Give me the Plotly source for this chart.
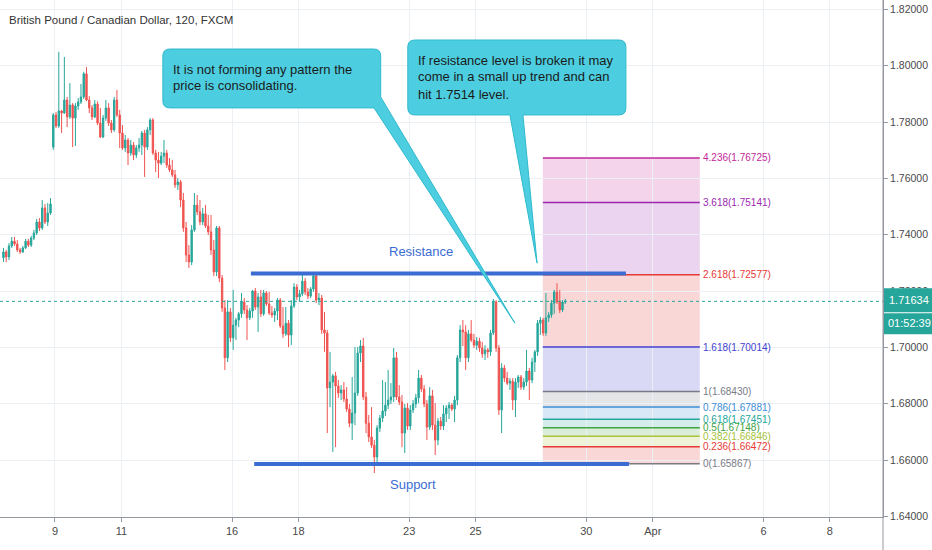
import plotly.graph_objects as go

# ---------------- data ----------------
opens = [
    1.7318, 1.7339, 1.7321, 1.7360, 1.7377, 1.7367, 1.7346, 1.7339, 1.7353, 1.7377, 1.7363, 1.7388, 1.7406, 1.7445, 1.7424, 1.7495, 1.7445, 1.7477,
    1.7711, 1.7825, 1.7786, 1.7839, 1.7832, 1.7878, 1.7818, 1.7860, 1.7814, 1.7857,
    1.7871, 1.7889, 1.7971, 1.7878, 1.7850, 1.7818, 1.7864, 1.7796, 1.7747, 1.7814,
    1.7850, 1.7796, 1.7772, 1.7878, 1.7825, 1.7761, 1.7708, 1.7736, 1.7690, 1.7718,
    1.7683, 1.7708, 1.7718, 1.7761, 1.7711, 1.7772, 1.7807, 1.7690, 1.7665, 1.7654,
    1.7679, 1.7690, 1.7647, 1.7630, 1.7612, 1.7577, 1.7587, 1.7523, 1.7424, 1.7328,
    1.7303, 1.7417, 1.7505, 1.7481, 1.7445, 1.7474, 1.7431, 1.7410, 1.7346, 1.7268, 1.7424,
    1.7246, 1.7140, 1.6963, 1.7126, 1.7034, 1.7079, 1.7097, 1.7119, 1.7161, 1.7133,
    1.7105, 1.7129, 1.7200, 1.7143, 1.7179, 1.7119, 1.7193, 1.7154, 1.7122, 1.7115,
    1.7129, 1.7168, 1.7076, 1.7048, 1.7086, 1.7044, 1.7147, 1.7214, 1.7179, 1.7190,
    1.7235, 1.7197, 1.7182, 1.7207, 1.7254, 1.7168, 1.7175, 1.7062, 1.7051, 1.6856, 1.6877, 1.6899, 1.6863,
    1.6838, 1.6849, 1.6817, 1.6781, 1.6731, 1.6767, 1.6838, 1.6980, 1.7005, 1.6824,
    1.6731, 1.6682, 1.6653, 1.6611, 1.6714, 1.6749, 1.6774, 1.6795, 1.6813, 1.6824,
    1.6963, 1.6824, 1.6806, 1.6696, 1.6785, 1.6721, 1.6778, 1.6799, 1.6821, 1.6891,
    1.6852, 1.6799, 1.6717, 1.6828, 1.6724, 1.6671, 1.6738, 1.6721, 1.6764, 1.6785, 1.6795,
    1.6781, 1.6813, 1.6963, 1.7062, 1.7055, 1.6963, 1.7048, 1.7026, 1.7008, 1.7022,
    1.6998, 1.6977, 1.6991, 1.6984, 1.7051, 1.7161, 1.6998, 1.6778, 1.6927, 1.6891,
    1.6873, 1.6880, 1.6813, 1.6877, 1.6895, 1.6859, 1.6877, 1.6916, 1.6884, 1.6948,
    1.6984, 1.7086, 1.7097, 1.7051, 1.7105, 1.7115, 1.7157, 1.7197, 1.7161, 1.7133, 1.7161,
]
highs = [
    1.7353, 1.7346, 1.7370, 1.7392, 1.7392, 1.7381, 1.7353, 1.7360, 1.7385, 1.7385, 1.7396, 1.7417, 1.7456, 1.7459, 1.7523, 1.7509, 1.7512, 1.7530,
    1.7832, 1.7836, 1.8049, 1.7843, 1.8031, 1.7889, 1.7938, 1.7867, 1.7867, 1.7885,
    1.7935, 1.7978, 1.7995, 1.7892, 1.7860, 1.7878, 1.7874, 1.7850, 1.7825, 1.7878,
    1.7867, 1.7807, 1.7889, 1.7914, 1.7843, 1.7789, 1.7754, 1.7743, 1.7736, 1.7729,
    1.7718, 1.7743, 1.7768, 1.7772, 1.7782, 1.7814, 1.7814, 1.7701, 1.7694, 1.7694,
    1.7736, 1.7701, 1.7672, 1.7665, 1.7630, 1.7601, 1.7594, 1.7548, 1.7445, 1.7363,
    1.7434, 1.7548, 1.7541, 1.7523, 1.7495, 1.7505, 1.7470, 1.7470, 1.7381, 1.7431, 1.7431,
    1.7257, 1.7168, 1.7168, 1.7140, 1.7204, 1.7105, 1.7126, 1.7193, 1.7175, 1.7150,
    1.7140, 1.7204, 1.7211, 1.7193, 1.7204, 1.7204, 1.7200, 1.7197, 1.7147, 1.7140,
    1.7175, 1.7175, 1.7143, 1.7143, 1.7097, 1.7168, 1.7228, 1.7225, 1.7204, 1.7257,
    1.7246, 1.7211, 1.7214, 1.7268, 1.7268, 1.7193, 1.7186, 1.7126, 1.7062, 1.6984, 1.6906, 1.6913, 1.6884,
    1.6866, 1.6877, 1.6859, 1.6799, 1.6895, 1.7001, 1.7001, 1.7026, 1.7034, 1.6842,
    1.6760, 1.6788, 1.6671, 1.6724, 1.6760, 1.6884, 1.6877, 1.6920, 1.6873, 1.6998,
    1.6984, 1.6866, 1.6831, 1.6799, 1.6802, 1.6795, 1.6813, 1.6835, 1.6920, 1.6902,
    1.6866, 1.6813, 1.6859, 1.6849, 1.6802, 1.6749, 1.6753, 1.6795, 1.6795, 1.6806, 1.6802,
    1.6828, 1.6973, 1.7079, 1.7097, 1.7079, 1.7062, 1.7097, 1.7048, 1.7037, 1.7034,
    1.7019, 1.7008, 1.6998, 1.7062, 1.7172, 1.7168, 1.7008, 1.6944, 1.6938, 1.6913,
    1.6891, 1.6891, 1.6891, 1.6902, 1.6902, 1.6891, 1.6991, 1.6927, 1.6963, 1.6991,
    1.7097, 1.7108, 1.7105, 1.7193, 1.7126, 1.7168, 1.7204, 1.7228, 1.7204, 1.7168, 1.7172,
]
lows = [
    1.7303, 1.7303, 1.7310, 1.7353, 1.7360, 1.7339, 1.7332, 1.7335, 1.7349, 1.7356, 1.7356, 1.7381, 1.7399, 1.7413, 1.7417, 1.7438, 1.7431, 1.7470,
    1.7701, 1.7779, 1.7779, 1.7761, 1.7829, 1.7782, 1.7811, 1.7711, 1.7715, 1.7843,
    1.7864, 1.7882, 1.7874, 1.7832, 1.7807, 1.7814, 1.7789, 1.7743, 1.7743, 1.7804,
    1.7786, 1.7761, 1.7765, 1.7818, 1.7708, 1.7701, 1.7694, 1.7647, 1.7680, 1.7665,
    1.7672, 1.7694, 1.7683, 1.7605, 1.7701, 1.7754, 1.7683, 1.7622, 1.7601, 1.7647,
    1.7654, 1.7637, 1.7622, 1.7605, 1.7566, 1.7559, 1.7498, 1.7410, 1.7303, 1.7282,
    1.7292, 1.7410, 1.7470, 1.7434, 1.7434, 1.7424, 1.7399, 1.7328, 1.7253, 1.7253, 1.7232,
    1.7126, 1.6920, 1.6948, 1.7019, 1.6991, 1.7026, 1.7072, 1.7105, 1.7119, 1.7026,
    1.7097, 1.7105, 1.7133, 1.7055, 1.7108, 1.7112, 1.7147, 1.7115, 1.7105, 1.7090,
    1.7097, 1.7069, 1.7034, 1.7041, 1.7001, 1.7008, 1.7140, 1.7168, 1.7161, 1.7182,
    1.7186, 1.7172, 1.7175, 1.7197, 1.7157, 1.7150, 1.7048, 1.6984, 1.6696, 1.6788, 1.6629, 1.6646, 1.6821,
    1.6813, 1.6806, 1.6771, 1.6717, 1.6671, 1.6724, 1.6828, 1.6948, 1.6813, 1.6696,
    1.6664, 1.6643, 1.6554, 1.6593, 1.6700, 1.6735, 1.6756, 1.6781, 1.6799, 1.6806,
    1.6813, 1.6795, 1.6646, 1.6625, 1.6707, 1.6707, 1.6767, 1.6785, 1.6802, 1.6842,
    1.6788, 1.6671, 1.6707, 1.6707, 1.6618, 1.6653, 1.6707, 1.6707, 1.6735, 1.6746, 1.6774,
    1.6735, 1.6795, 1.6948, 1.7005, 1.6920, 1.6948, 1.7019, 1.6998, 1.6991, 1.6984,
    1.6963, 1.6955, 1.6963, 1.6970, 1.7044, 1.6984, 1.6760, 1.6696, 1.6877, 1.6866,
    1.6849, 1.6778, 1.6753, 1.6856, 1.6849, 1.6849, 1.6863, 1.6813, 1.6873, 1.6913,
    1.6970, 1.7044, 1.7041, 1.7041, 1.7090, 1.7105, 1.7119, 1.7154, 1.7122, 1.7126, 1.7154,
]
closes = [
    1.7339, 1.7321, 1.7360, 1.7377, 1.7367, 1.7346, 1.7339, 1.7353, 1.7377, 1.7363, 1.7388, 1.7406, 1.7445, 1.7424, 1.7495, 1.7445, 1.7477, 1.7509,
    1.7825, 1.7786, 1.7839, 1.7832, 1.7878, 1.7818, 1.7860, 1.7814, 1.7857, 1.7871,
    1.7889, 1.7971, 1.7878, 1.7850, 1.7818, 1.7864, 1.7796, 1.7747, 1.7814, 1.7850,
    1.7796, 1.7772, 1.7878, 1.7825, 1.7761, 1.7708, 1.7736, 1.7690, 1.7718, 1.7683,
    1.7708, 1.7718, 1.7761, 1.7711, 1.7772, 1.7807, 1.7690, 1.7665, 1.7654, 1.7679,
    1.7690, 1.7647, 1.7630, 1.7612, 1.7577, 1.7587, 1.7523, 1.7424, 1.7328, 1.7303,
    1.7417, 1.7505, 1.7481, 1.7445, 1.7474, 1.7431, 1.7410, 1.7346, 1.7268, 1.7424, 1.7246,
    1.7140, 1.6963, 1.7126, 1.7034, 1.7079, 1.7097, 1.7119, 1.7161, 1.7133, 1.7105,
    1.7129, 1.7200, 1.7143, 1.7179, 1.7119, 1.7193, 1.7154, 1.7122, 1.7115, 1.7129,
    1.7168, 1.7076, 1.7048, 1.7086, 1.7044, 1.7147, 1.7214, 1.7179, 1.7190, 1.7235,
    1.7197, 1.7182, 1.7207, 1.7254, 1.7168, 1.7175, 1.7062, 1.7051, 1.6856, 1.6877, 1.6899, 1.6863, 1.6838,
    1.6849, 1.6817, 1.6781, 1.6731, 1.6767, 1.6838, 1.6980, 1.7005, 1.6824, 1.6731,
    1.6682, 1.6653, 1.6611, 1.6714, 1.6749, 1.6774, 1.6795, 1.6813, 1.6824, 1.6963,
    1.6824, 1.6806, 1.6696, 1.6785, 1.6721, 1.6778, 1.6799, 1.6821, 1.6891, 1.6852,
    1.6799, 1.6717, 1.6828, 1.6724, 1.6671, 1.6738, 1.6721, 1.6764, 1.6785, 1.6795, 1.6781,
    1.6813, 1.6963, 1.7062, 1.7055, 1.6963, 1.7048, 1.7026, 1.7008, 1.7022, 1.6998,
    1.6977, 1.6991, 1.6984, 1.7051, 1.7161, 1.6998, 1.6778, 1.6927, 1.6891, 1.6873,
    1.6880, 1.6813, 1.6877, 1.6895, 1.6859, 1.6877, 1.6916, 1.6884, 1.6948, 1.6984,
    1.7086, 1.7097, 1.7051, 1.7105, 1.7115, 1.7157, 1.7197, 1.7161, 1.7133, 1.7161, 1.71634,
]

# bar-index positions of the date ticks (120-min bars, weekends skipped)
tick_pos = [19.6, 43.6, 83.6, 107.6, 147.6, 171.6, 211.6, 235.6, 275.6, 299.6]
tick_text = ["9", "11", "16", "18", "23", "25", "30", "Apr", "6", "8"]

fib_ratios = ["0", "0.236", "0.382", "0.5", "0.618", "0.786", "1", "1.618", "2.618", "3.618", "4.236"]
fib_prices = [1.65867, 1.66472, 1.66846, 1.67148, 1.67451, 1.67881, 1.68430, 1.70014, 1.72577, 1.75141, 1.76725]
fib_start, fib_end = 195.9, 252.6

resistance_price = 1.7262
resistance_span = [90.4, 225.9]
support_price = 1.6586
support_span = [91.6, 227.0]

last_price = 1.71634
countdown = "01:52:39"
title = "British Pound / Canadian Dollar, 120, FXCM"

note1_lines = ["It is not forming any pattern the", "price is consolidating."]
note2_lines = ["If resistance level is broken it may", "come in a small up trend and can", "hit 1.7514 level."]

# ---------------- styling ----------------
FONT = "Liberation Sans, Arial, sans-serif"
UP, DOWN = "#26a69a", "#ef5350"
GRID = "#eceff4"
AXIS = "#9598a1"
TXT = "#4a4a4a"
fib_colors = ["#787b86", "#e53935", "#a9c23a", "#3fa33f", "#26a69a", "#3d8ed6",
              "#787b86", "#3f3fd1", "#e53935", "#9c27b0", "#c2289a"]
SR_BLUE = "#3a6cd2"
CALL_FILL, CALL_LINE = "#4ccee0", "#2fb9cc"

X_RANGE = [-0.25, 318.8]
Y_RANGE = [1.6398, 1.8233]
KPX = (X_RANGE[1] - X_RANGE[0]) / 883.0   # bar units per pixel
PPX = (Y_RANGE[1] - Y_RANGE[0]) / 517.0   # price per pixel

bars = list(range(1, len(closes) + 1))

fig = go.Figure()
fig.add_trace(go.Candlestick(
    x=bars, open=opens, high=highs, low=lows, close=closes,
    increasing=dict(line=dict(color=UP, width=1), fillcolor=UP),
    decreasing=dict(line=dict(color=DOWN, width=1), fillcolor=DOWN),
    whiskerwidth=0, hoverinfo="skip", showlegend=False,
))

shapes = []
annotations = []

# Fibonacci extension zones and levels
for i in range(len(fib_prices) - 1):
    shapes.append(dict(type="rect", xref="x", yref="y", x0=fib_start, x1=fib_end,
                       y0=fib_prices[i], y1=fib_prices[i + 1],
                       fillcolor=fib_colors[i + 1], opacity=0.2, line=dict(width=0), layer="below"))
for r, p, c in zip(fib_ratios, fib_prices, fib_colors):
    shapes.append(dict(type="line", xref="x", yref="y", x0=fib_start, x1=fib_end, y0=p, y1=p,
                       line=dict(color=c, width=1.5), layer="above"))
    annotations.append(dict(x=fib_end, y=p, xref="x", yref="y", xanchor="left", yanchor="middle",
                            xshift=1, showarrow=False, text=f"{r}({p:.5f})",
                            font=dict(family=FONT, size=10, color=c)))

# last price dotted line
shapes.append(dict(type="line", xref="paper", yref="y", x0=0, x1=1, y0=last_price, y1=last_price,
                   line=dict(color=UP, width=1, dash="dot"), layer="above"))

# support / resistance
shapes.append(dict(type="line", xref="x", yref="y", x0=resistance_span[0], x1=resistance_span[1],
                   y0=resistance_price, y1=resistance_price, line=dict(color=SR_BLUE, width=4), layer="above"))
shapes.append(dict(type="line", xref="x", yref="y", x0=support_span[0], x1=support_span[1],
                   y0=support_price, y1=support_price, line=dict(color=SR_BLUE, width=4), layer="above"))
annotations.append(dict(x=151.8, y=resistance_price, xref="x", yref="y", yshift=22, showarrow=False,
                        text="Resistance", font=dict(family=FONT, size=13, color=SR_BLUE)))
annotations.append(dict(x=149.0, y=support_price, xref="x", yref="y", yshift=-20, showarrow=False,
                        text="Support", font=dict(family=FONT, size=13, color=SR_BLUE)))

# callouts
rx, ry = 7 * KPX, 7 * PPX


def callout1(x0, x1, y0, y1, attach_y, base_x, tip):
    return (f"M {x0+rx},{y1} L {x1-rx},{y1} Q {x1},{y1} {x1},{y1-ry} L {x1},{attach_y} "
            f"L {tip[0]},{tip[1]} L {base_x},{y0} L {x0+rx},{y0} Q {x0},{y0} {x0},{y0+ry} "
            f"L {x0},{y1-ry} Q {x0},{y1} {x0+rx},{y1} Z")


def callout2(x0, x1, y0, y1, bl, br, tip):
    return (f"M {x0+rx},{y1} L {x1-rx},{y1} Q {x1},{y1} {x1},{y1-ry} L {x1},{y0+ry} "
            f"Q {x1},{y0} {x1-rx},{y0} L {br},{y0} L {tip[0]},{tip[1]} L {bl},{y0} "
            f"L {x0+rx},{y0} Q {x0},{y0} {x0},{y0+ry} L {x0},{y1-ry} Q {x0},{y1} {x0+rx},{y1} Z")


shapes.append(dict(type="path", xref="x", yref="y", layer="above",
                   path=callout1(58.6, 137.3, 1.7850, 1.8059, 1.7889, 134.9, (185.8, 1.7086)),
                   fillcolor=CALL_FILL, line=dict(color=CALL_LINE, width=1)))
shapes.append(dict(type="path", xref="x", yref="y", layer="above",
                   path=callout2(147.1, 225.9, 1.7825, 1.8091, 184.0, 188.7, (193.8, 1.7299)),
                   fillcolor=CALL_FILL, line=dict(color=CALL_LINE, width=1)))
for line, yv in zip(note1_lines, [1.7988, 1.7928]):
    annotations.append(dict(x=61.5, y=yv, xref="x", yref="y", xanchor="left", yanchor="middle",
                            showarrow=False, text=line, font=dict(family=FONT, size=13, color="#1b1b1b")))
for line, yv in zip(note2_lines, [1.8020, 1.7960, 1.7899]):
    annotations.append(dict(x=149.9, y=yv, xref="x", yref="y", xanchor="left", yanchor="middle",
                            showarrow=False, text=line, font=dict(family=FONT, size=13, color="#1b1b1b")))

# price scale separator and last-price boxes
shapes.append(dict(type="line", xref="paper", yref="paper", x0=1, x1=1, y0=-33 / 517, y1=1,
                   line=dict(color=AXIS, width=1), layer="above"))
shapes.append(dict(type="rect", xref="paper", yref="y", xsizemode="pixel", ysizemode="pixel",
                   xanchor=1, yanchor=last_price, x0=1, x1=49, y0=-11, y1=13,
                   fillcolor=UP, line=dict(width=0), layer="above"))
shapes.append(dict(type="rect", xref="paper", yref="y", xsizemode="pixel", ysizemode="pixel",
                   xanchor=1, yanchor=last_price, x0=1, x1=49, y0=-33, y1=-12,
                   fillcolor=UP, line=dict(width=0), layer="above"))
annotations.append(dict(x=1, y=last_price, xref="paper", yref="y", xanchor="left", yanchor="middle",
                        xshift=4, yshift=1, showarrow=False, text=f"{last_price:.5f}",
                        font=dict(family=FONT, size=11, color="white")))
annotations.append(dict(x=1, y=last_price, xref="paper", yref="y", xanchor="left", yanchor="middle",
                        xshift=3, yshift=-22, showarrow=False, text=countdown,
                        font=dict(family=FONT, size=11, color="white")))

# chart title
annotations.append(dict(x=7 / 883, y=1 - 20 / 517, xref="paper", yref="paper", xanchor="left",
                        yanchor="middle", showarrow=False, text=title,
                        font=dict(family=FONT, size=11.5, color="#333333")))

fig.update_layout(
    width=932, height=550,
    margin=dict(l=0, r=49, t=0, b=33),
    paper_bgcolor="white", plot_bgcolor="white",
    showlegend=False,
    font=dict(family=FONT, size=11, color=TXT),
    shapes=shapes, annotations=annotations,
    xaxis=dict(range=X_RANGE, tickmode="array", tickvals=tick_pos, ticktext=tick_text,
               showgrid=True, gridcolor=GRID, gridwidth=1, zeroline=False,
               showline=True, linecolor=AXIS, linewidth=1,
               ticks="outside", ticklen=4, tickcolor=AXIS,
               tickfont=dict(family=FONT, size=11, color=TXT),
               rangeslider=dict(visible=False), fixedrange=True),
    yaxis=dict(range=Y_RANGE, side="right", tick0=1.64, dtick=0.02, tickformat=".5f",
               showgrid=True, gridcolor=GRID, gridwidth=1, zeroline=False,
               showline=True, linecolor=AXIS, linewidth=1,
               ticks="outside", ticklen=4, tickcolor=AXIS,
               tickfont=dict(family=FONT, size=10.5, color=TXT), fixedrange=True),
)

fig.write_html("out.html", config={"displayModeBar": False},
               post_script="document.body.style.margin='0';document.body.style.overflow='hidden';")
